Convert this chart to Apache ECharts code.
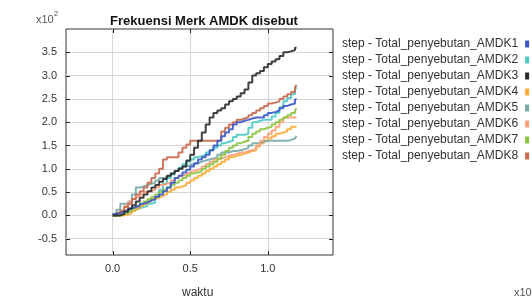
<!DOCTYPE html>
<html>
<head>
<meta charset="utf-8">
<script src="https://cdn.jsdelivr.net/npm/echarts@6/dist/echarts.min.js"></script>
<style>
  html, body { margin: 0; padding: 0; background: #fff; }
  #main { width: 532px; height: 301px; }
</style>
</head>
<body>
<div id="main"></div>
<script>
// waktu (sumbu x) dan jumlah penyebutan per merk
var waktu = [0, 0.025, 0.05, 0.075, 0.1, 0.125, 0.15, 0.175, 0.2, 0.225, 0.25, 0.275, 0.3, 0.325,
             0.35, 0.375, 0.4, 0.425, 0.45, 0.475, 0.5, 0.525, 0.55, 0.575, 0.6, 0.625, 0.65, 0.675,
             0.7, 0.725, 0.75, 0.775, 0.8, 0.825, 0.85, 0.875, 0.9, 0.925, 0.95, 0.975, 1.0, 1.025,
             1.05, 1.075, 1.1, 1.125, 1.15, 1.175, 1.185];

var amdk1 = [3, 5, 8, 12, 15, 18, 20, 25, 28, 32, 35, 40, 45, 52, 60, 70, 80, 85, 92, 98, 105, 112, 120, 125, 130,
             140, 150, 160, 170, 178, 185, 195, 200, 203, 205, 208, 210, 210, 210, 215, 220, 222, 225, 230, 235, 238, 240, 248, 250];
var amdk2 = [0, 0, 2, 5, 8, 12, 15, 18, 20, 25, 28, 40, 55, 68, 80, 88, 95, 102, 110, 115, 120, 125, 127, 130, 135,
             140, 145, 150, 155, 158, 160, 168, 173, 173, 175, 188, 200, 203, 205, 205, 205, 212, 220, 232, 245, 252, 260, 270, 275];
var amdk3 = [0, 0, 3, 8, 15, 22, 30, 38, 45, 52, 60, 65, 72, 78, 85, 90, 95, 100, 105, 118, 130, 145, 160, 178, 195,
             210, 220, 225, 230, 238, 245, 250, 255, 262, 270, 285, 300, 305, 310, 318, 325, 330, 335, 342, 350, 352, 355, 360, 360];
var amdk4 = [0, 0, 0, 2, 5, 10, 15, 20, 25, 30, 35, 38, 42, 45, 50, 55, 60, 62, 65, 70, 75, 80, 85, 90, 95,
             100, 105, 110, 115, 120, 125, 128, 130, 132, 135, 138, 140, 148, 155, 160, 165, 170, 175, 178, 180, 185, 190, 190, 190];
var amdk5 = [0, 12, 25, 25, 30, 45, 60, 62, 65, 68, 70, 75, 80, 82, 85, 90, 95, 100, 105, 108, 110, 112, 115, 118, 120,
             122, 125, 130, 135, 135, 138, 138, 140, 142, 145, 150, 155, 155, 158, 160, 160, 160, 160, 160, 160, 162, 165, 168, 170];
var amdk6 = [0, 5, 10, 20, 28, 35, 40, 45, 50, 52, 55, 60, 65, 68, 70, 75, 80, 85, 88, 92, 95, 98, 100, 105, 110,
             115, 120, 122, 125, 128, 130, 132, 135, 135, 138, 140, 142, 150, 160, 168, 175, 182, 190, 200, 210, 210, 210, 210, 210];
var amdk7 = [0, 0, 3, 5, 10, 15, 20, 25, 30, 35, 40, 45, 50, 55, 60, 65, 70, 75, 80, 85, 90, 92, 95, 100, 105,
             110, 115, 122, 130, 138, 145, 150, 155, 158, 160, 168, 175, 180, 185, 188, 190, 195, 200, 205, 210, 215, 220, 225, 230];
var amdk8 = [0, 5, 10, 18, 25, 35, 45, 52, 60, 70, 80, 90, 100, 120, 125, 125, 125, 135, 145, 152, 160, 160, 160, 160, 160,
             160, 160, 160, 180, 188, 195, 200, 205, 208, 210, 215, 220, 225, 230, 235, 240, 242, 245, 250, 255, 260, 265, 275, 280];

var namaSeri = ['step - Total_penyebutan_AMDK1', 'step - Total_penyebutan_AMDK2',
                'step - Total_penyebutan_AMDK3', 'step - Total_penyebutan_AMDK4',
                'step - Total_penyebutan_AMDK5', 'step - Total_penyebutan_AMDK6',
                'step - Total_penyebutan_AMDK7', 'step - Total_penyebutan_AMDK8'];
var warna = ['#3a56c8', '#4ccac2', '#2b2b2b', '#ffaa33', '#78aaa8', '#ff9e7a', '#88c440', '#c8684e'];

var xTicks = [0, 0.5, 1.0];
var yTicks = [-50, 0, 50, 100, 150, 200, 250, 300, 350];
var xMin = -0.3, xMax = 1.42, yMin = -85, yMax = 400;

var semuaData = [amdk1, amdk2, amdk3, amdk4, amdk5, amdk6, amdk7, amdk8];

var myChart = echarts.init(document.getElementById('main'));

var seri = semuaData.map(function (arr, i) {
    return {
        name: namaSeri[i],
        type: 'line',
        step: 'end',
        symbol: 'none',
        lineStyle: { width: 2, color: warna[i], opacity: 0.9 },
        itemStyle: { color: warna[i] },
        z: i === 2 ? 5 : (i === 0 ? 4 : 2),
        data: arr.map(function (v, j) { return [waktu[j], v]; })
    };
});

var option = {
    animation: false,
    title: {
        text: 'Frekuensi Merk AMDK disebut',
        left: 199,
        textAlign: 'center',
        top: 10,
        textStyle: { fontFamily: 'Liberation Sans', fontSize: 13, fontWeight: 'bold', color: '#111' }
    },
    legend: {
        orient: 'vertical',
        left: 337,
        top: 33,
        align: 'right',
        itemWidth: 4,
        itemHeight: 7,
        itemGap: 4,
        icon: 'rect',
        textStyle: { fontFamily: 'Liberation Sans', fontSize: 12, color: '#333', padding: [0, 2, 0, 0] },
        data: namaSeri
    },
    grid: {
        left: 66, right: 199, top: 29, bottom: 46,
        show: true, borderColor: '#333', borderWidth: 1
    },
    xAxis: {
        type: 'value',
        min: xMin,
        max: xMax,
        axisLine: { show: false, onZero: false },
        axisTick: { show: false, customValues: xTicks },
        splitLine: { show: true, lineStyle: { color: '#d6d6d6', width: 1 } },
        axisLabel: {
            customValues: xTicks, margin: 8,
            fontFamily: 'Liberation Sans', fontSize: 11, color: '#333',
            formatter: function (v) { return v.toFixed(1); }
        }
    },
    yAxis: {
        type: 'value',
        min: yMin,
        max: yMax,
        axisLine: { show: false, onZero: false },
        axisTick: { show: false, customValues: yTicks },
        splitLine: { show: true, lineStyle: { color: '#d6d6d6', width: 1 } },
        axisLabel: {
            customValues: yTicks, margin: 9,
            fontFamily: 'Liberation Sans', fontSize: 11, color: '#333',
            formatter: function (v) { return (v / 100).toFixed(1); }
        }
    },
    series: seri
};

myChart.setOption(option);

// tick kecil ke dalam di keempat sisi, posisinya dari skala sumbu
var tickLen = 4;
var tickStyle = { stroke: '#222', lineWidth: 1 };
var gfx = [];
xTicks.forEach(function (v) {
    var bawah = myChart.convertToPixel({ gridIndex: 0 }, [v, yMin]);
    var atas = myChart.convertToPixel({ gridIndex: 0 }, [v, yMax]);
    var x = Math.round(bawah[0]) + 0.5;
    gfx.push({ type: 'line', shape: { x1: x, y1: bawah[1], x2: x, y2: bawah[1] - tickLen }, style: tickStyle, z: 10 });
    gfx.push({ type: 'line', shape: { x1: x, y1: atas[1], x2: x, y2: atas[1] + tickLen }, style: tickStyle, z: 10 });
});
yTicks.forEach(function (v) {
    var kiri = myChart.convertToPixel({ gridIndex: 0 }, [xMin, v]);
    var kanan = myChart.convertToPixel({ gridIndex: 0 }, [xMax, v]);
    var y = Math.round(kiri[1]) + 0.5;
    gfx.push({ type: 'line', shape: { x1: kiri[0], y1: y, x2: kiri[0] + tickLen, y2: y }, style: tickStyle, z: 10 });
    gfx.push({ type: 'line', shape: { x1: kanan[0], y1: y, x2: kanan[0] - tickLen, y2: y }, style: tickStyle, z: 10 });
});

gfx.push({
    type: 'text', left: 36, top: 10,
    style: {
        text: '{a|x10}{b|2}',
        rich: {
            a: { fontFamily: 'Liberation Sans', fontSize: 11, fill: '#555', padding: [4, 0, 0, 0] },
            b: { fontFamily: 'Liberation Sans', fontSize: 8, fill: '#555', verticalAlign: 'top' }
        }
    }
});
gfx.push({
    type: 'text', left: 182, top: 287,
    style: { text: 'waktu', fontFamily: 'Liberation Sans', fontSize: 12, fill: '#333' }
});
gfx.push({
    type: 'text', left: 514, top: 287,
    style: { text: 'x10', fontFamily: 'Liberation Sans', fontSize: 11, fill: '#555' }
});

myChart.setOption({ graphic: gfx });
window.onresize = myChart.resize;
</script>
</body>
</html>
